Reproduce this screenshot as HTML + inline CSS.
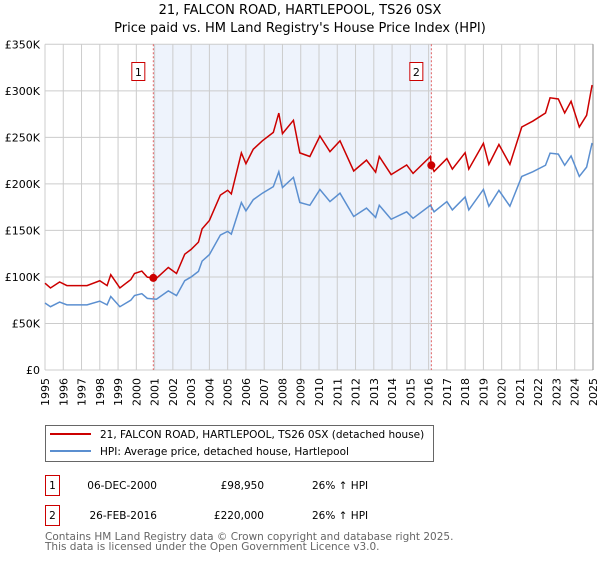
<!DOCTYPE html>
<html><head><meta charset="utf-8"><style>
body{margin:0;background:#fff;font-family:"DejaVu Sans","Liberation Sans",sans-serif;}
svg text{font-family:"DejaVu Sans","Liberation Sans",sans-serif;}
</style></head><body>
<svg id="c" width="600" height="560" viewBox="0 0 600 560" xmlns="http://www.w3.org/2000/svg">
<text x="300" y="14" text-anchor="middle" font-size="13" fill="#000">21, FALCON ROAD, HARTLEPOOL, TS26 0SX</text>
<text x="300" y="32" text-anchor="middle" font-size="13" fill="#000">Price paid vs. HM Land Registry's House Price Index (HPI)</text>
<g id="plot"></g>
<g>
<rect x="45.5" y="425.5" width="388" height="36" fill="#fff" stroke="#666"/>
<line x1="50" y1="434" x2="91" y2="434" stroke="#cc0000" stroke-width="2"/>
<text x="100" y="438" font-size="10.5">21, FALCON ROAD, HARTLEPOOL, TS26 0SX (detached house)</text>
<line x1="50" y1="451" x2="91" y2="451" stroke="#5b8fd0" stroke-width="2"/>
<text x="100" y="455" font-size="10.5">HPI: Average price, detached house, Hartlepool</text>
</g>
<g font-size="10.5">
<rect x="45.5" y="475.5" width="14" height="20" fill="#fff" stroke="#cc0000"/>
<text x="52.5" y="489" text-anchor="middle">1</text>
<text x="157" y="489" text-anchor="end">06-DEC-2000</text>
<text x="264" y="489" text-anchor="end">£98,950</text>
<text x="312" y="489">26% ↑ HPI</text>
<rect x="45.5" y="505.5" width="14" height="20" fill="#fff" stroke="#cc0000"/>
<text x="52.5" y="519" text-anchor="middle">2</text>
<text x="157" y="519" text-anchor="end">26-FEB-2016</text>
<text x="264" y="519" text-anchor="end">£220,000</text>
<text x="312" y="519">26% ↑ HPI</text>
</g>
<text x="45" y="540" font-size="10.5" fill="#666">Contains HM Land Registry data © Crown copyright and database right 2025.</text>
<text x="45" y="550" font-size="10.5" fill="#666">This data is licensed under the Open Government Licence v3.0.</text>
</svg>
<script>
const yTicks=[0,50000,100000,150000,200000,250000,300000,350000];
const yTickLabels=["£0","£50K","£100K","£150K","£200K","£250K","£300K","£350K"];
const xYears=[1995,1996,1997,1998,1999,2000,2001,2002,2003,2004,2005,2006,2007,2008,2009,2010,2011,2012,2013,2014,2015,2016,2017,2018,2019,2020,2021,2022,2023,2024,2025];
const hpiDates=[1995.0,1995.3,1995.8,1996.2,1997.3,1998.0,1998.4,1998.6,1999.1,1999.7,1999.9,2000.3,2000.6,2001.1,2001.75,2002.2,2002.65,2003.0,2003.4,2003.6,2004.0,2004.6,2005.0,2005.2,2005.75,2006.0,2006.4,2006.9,2007.5,2007.8,2008.0,2008.6,2008.95,2009.5,2010.05,2010.6,2011.15,2011.9,2012.6,2013.1,2013.3,2013.95,2014.8,2015.15,2016.1,2016.3,2017.0,2017.3,2018.0,2018.2,2019.0,2019.3,2019.85,2020.45,2021.1,2021.7,2022.4,2022.65,2023.1,2023.45,2023.8,2024.25,2024.65,2024.95];
const hpiValues=[72000,68000,73000,70000,70000,74000,70000,79000,68000,75000,80000,82000,77000,76000,85000,80000,96000,100000,106000,117000,124000,145000,149000,146000,180000,171000,183000,190000,197000,213000,196000,207000,180000,177000,194000,181000,190000,165000,174000,164000,177000,162000,170000,163000,177000,170000,181000,172000,186000,172000,194000,176000,193000,176000,208000,213000,220000,233000,232000,220000,230000,208000,218000,244000];
const saleDates=[2000.93,2016.15];
const salePrices=[98950,220000];
const saleLabels=["1","2"];

const X0=45,X1=593,Y0=370,Y1=44.3;
const xs=v=>X0+(v-1995)/(2025-1995)*(X1-X0);
const ys=v=>Y0-(v/350000)*(Y0-Y1);
const NS="http://www.w3.org/2000/svg";
const g=document.getElementById('plot');
function mk(t,a){const e=document.createElementNS(NS,t);for(const k in a)e.setAttribute(k,a[k]);g.appendChild(e);return e;}
function hpiAt(t){for(let i=0;i<hpiDates.length-1;i++){if(t<=hpiDates[i+1]){const f=(t-hpiDates[i])/(hpiDates[i+1]-hpiDates[i]);return hpiValues[i]+f*(hpiValues[i+1]-hpiValues[i]);}}return hpiValues[hpiValues.length-1];}

let r=mk('rect',{x:X0,y:Y1,width:X1-X0,height:Y0-Y1,fill:'#fff'});


r=mk('rect',{x:xs(saleDates[0]),y:Y1,width:xs(saleDates[1])-xs(saleDates[0]),height:Y0-Y1,fill:'#eef3fc'});


xYears.forEach(y=>{const l=mk('line',{x1:xs(y),x2:xs(y),y1:Y1,y2:Y0,stroke:'#ccc','stroke-width':1});


const t=mk('text',{x:0,y:0,'font-size':11,'text-anchor':'end',transform:`translate(${xs(y)+4},${Y0+8}) rotate(-90)`});t.textContent=y;

});
yTicks.forEach((v,i)=>{const l=mk('line',{x1:X0,x2:X1,y1:ys(v),y2:ys(v),stroke:'#ccc','stroke-width':1});


const t=mk('text',{x:40,y:ys(v)+4,'font-size':11,'text-anchor':'end'});t.textContent=yTickLabels[i];

});
let rb=mk('line',{x1:X1,x2:X1,y1:Y1,y2:Y0,stroke:'#888','stroke-width':1});


let p=mk('polyline',{points:hpiDates.map((d,i)=>xs(d)+','+ys(hpiValues[i])).join(' '),fill:'none',stroke:'#5b8fd0','stroke-width':1.5});


const r1=salePrices[0]/hpiAt(saleDates[0]),r2=salePrices[1]/hpiAt(saleDates[1]);
const pts=[];
hpiDates.forEach((d,i)=>{if(d<saleDates[1]){pts.push([d,hpiValues[i]*r1]);}});
pts.push([saleDates[1],salePrices[1]]);
hpiDates.forEach((d,i)=>{if(d>saleDates[1])pts.push([d,hpiValues[i]*r2]);});
p=mk('polyline',{points:pts.map(q=>xs(q[0])+','+ys(q[1])).join(' '),fill:'none',stroke:'#cc0000','stroke-width':1.5});


saleDates.forEach((d,i)=>{
const l=mk('line',{x1:xs(d),x2:xs(d),y1:Y1,y2:Y0,stroke:'#e06060','stroke-dasharray':'2,2','stroke-width':1});


const c=mk('circle',{cx:xs(d),cy:ys(salePrices[i]),r:4,fill:'#cc0000'});


const b=mk('rect',{x:xs(d)-21.5,y:62.5,width:13,height:18,fill:'#fff',stroke:'#cc0000'});


const t=mk('text',{x:xs(d)-15,y:76,'font-size':11,'text-anchor':'middle'});t.textContent=saleLabels[i];


});
</script>
</body></html>
